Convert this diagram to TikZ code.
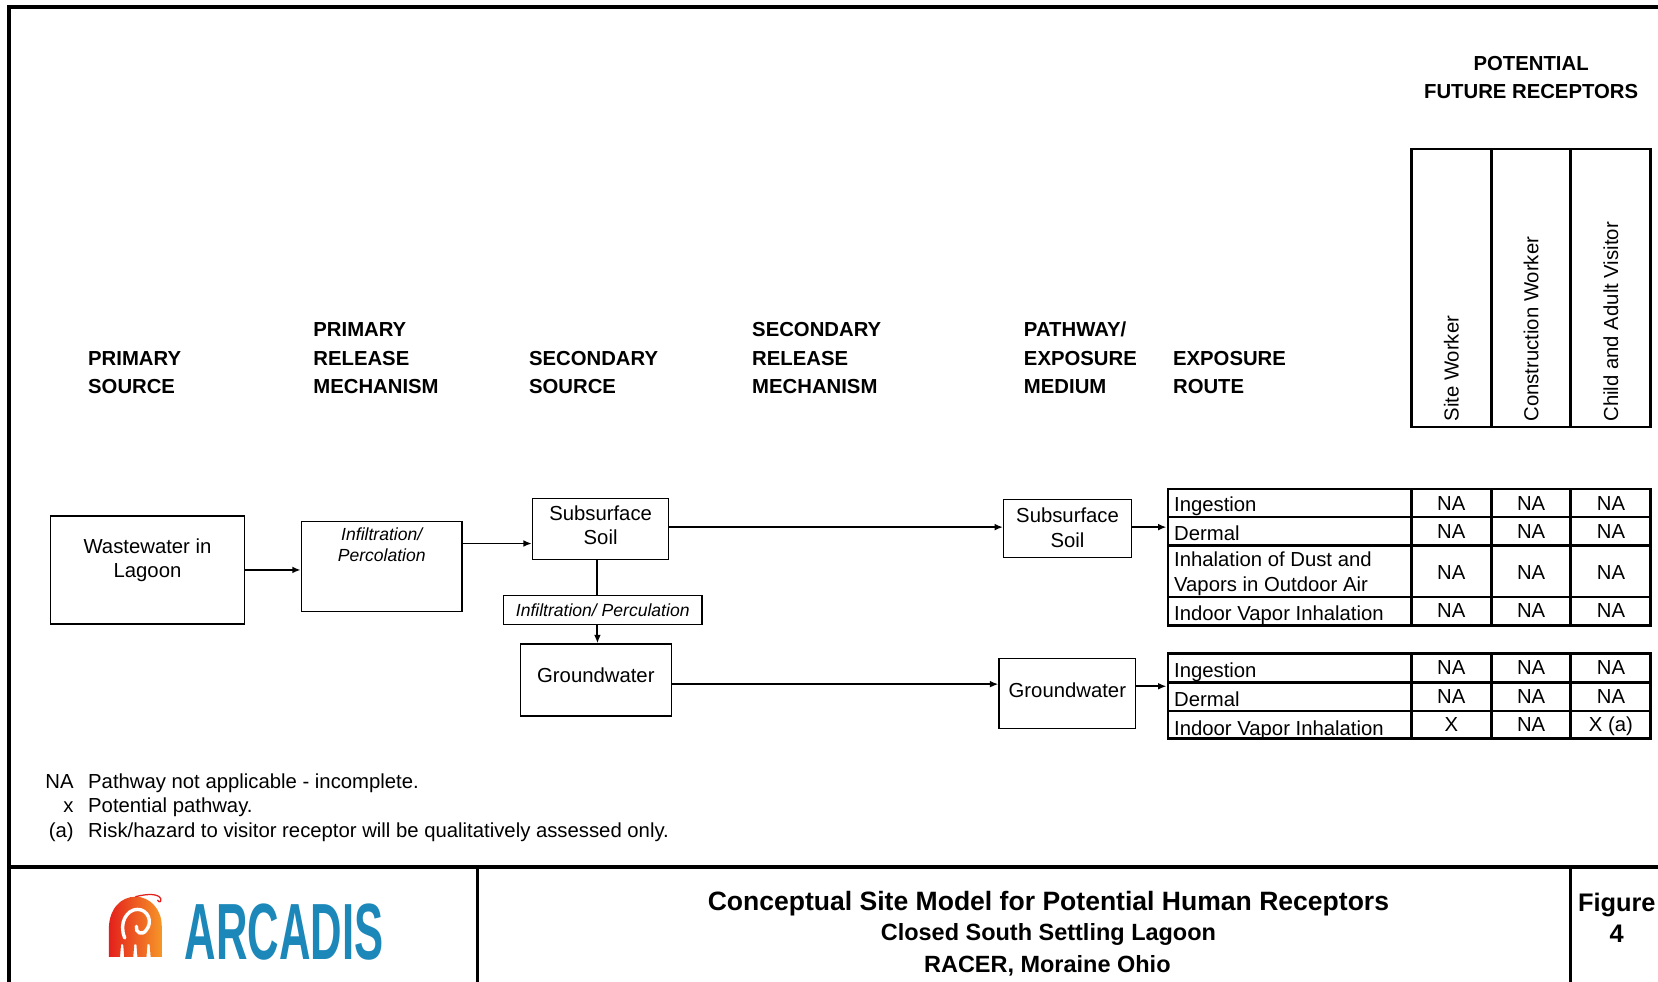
\documentclass[tikz,border=0pt]{standalone}
\usepackage{fontspec}
\setmainfont{Liberation Sans}
\usetikzlibrary{arrows.meta,fit,calc}
\definecolor{arcblue}{RGB}{28,136,186}
\definecolor{arcred}{RGB}{228,32,28}
\definecolor{arcorange}{RGB}{246,150,40}
\begin{document}
\begin{tikzpicture}[x=0.5pt,y=-0.5pt,
  hdr/.style={font=\fontsize{9.6}{13.5}\selectfont\bfseries, align=left, anchor=south west, inner sep=0pt},
  body/.style={font=\fontsize{9.6}{11.5}\selectfont, align=center, anchor=north, inner sep=0pt},
  itl/.style={font=\fontsize{8.3}{9.6}\selectfont\itshape, align=center, anchor=north, inner sep=0pt},
  box/.style={draw, line width=0.6pt, inner sep=0pt},
  arr/.style={line width=0.9pt, -{Latex[length=4pt,width=3.2pt]}},
  plain/.style={line width=0.9pt},
  tbl/.style={draw, line width=1.2pt, inner sep=0pt},
  tl/.style={line width=1.2pt},
  frame/.style={line width=1.5pt},
  cell/.style={font=\fontsize{9.6}{11.5}\selectfont, anchor=base, inner sep=0pt},
  lcell/.style={font=\fontsize{9.6}{11.5}\selectfont, anchor=base west, inner sep=0pt, align=left},
  colhdr/.style={font=\fontsize{9.6}{11.5}\selectfont, rotate=90, anchor=west, inner sep=0pt},
  note/.style={font=\fontsize{9.6}{11.5}\selectfont, inner sep=0pt},
  ttl/.style={font=\fontsize{12.55}{14}\selectfont\bfseries, anchor=base, inner sep=0pt},
  sub/.style={font=\fontsize{11.1}{13}\selectfont\bfseries, anchor=base, inner sep=0pt}
]
\useasboundingbox (0,0) rectangle (1568,928);
\clip (0,0) rectangle (1568,928);
\fill[white] (0,0) rectangle (1568,928);

% outer frame and title block
\draw[frame] (1600,6.6) -- (8.5,6.6) -- (8.5,960);
\draw[frame] (8.5,820) -- (1600,820);
\draw[frame] (451.6,820) -- (451.6,960);
\draw[frame] (1485.4,820) -- (1485.4,960);

% column headings
\node[hdr] (h1) at (83,373) {PRIMARY\\SOURCE};
\node[hdr] (h2) at (296,373) {PRIMARY\\RELEASE\\MECHANISM};
\node[hdr] (h3) at (500,373) {SECONDARY\\SOURCE};
\node[hdr] (h4) at (711,373) {SECONDARY\\RELEASE\\MECHANISM};
\node[hdr] (h5) at (968,373) {PATHWAY/\\EXPOSURE\\MEDIUM};
\node[hdr] (h6) at (1109,373) {EXPOSURE\\ROUTE};
\node[hdr, anchor=south, align=center] (h7) at (1448,94) {POTENTIAL\\FUTURE RECEPTORS};

% receptor header table
\node[tbl, fit={(1335,141) (1561,404)}] (rh) {};
\draw[tl] (1410.3,141) -- (1410.3,404);
\draw[tl] (1485.4,141) -- (1485.4,404);
\node[colhdr] (c1) at (1372.5,399) {Site Worker};
\node[colhdr] (c2) at (1448,399) {Construction Worker};
\node[colhdr] (c3) at (1523.5,399) {Child and Adult Visitor};

% boxes
\node[box, fit={(48,488) (231,590)}] (ww) {};
\node[body] (wwt) at (139.5,509) {Wastewater in\\Lagoon};
\node[box, fit={(285,493) (436.8,578)}] (pr) {};
\node[itl] (prt) at (361,499) {Infiltration/\\Percolation};
\node[box, fit={(503.6,471.5) (632.3,529.2)}] (ss1) {};
\node[body] (ss1t) at (568,478) {Subsurface\\Soil};
\node[box, fit={(476,563.5) (663.8,590.6)}] (ip) {};
\node[itl] (ipt) at (570,571) {Infiltration/ Perculation};
\node[box, fit={(492,609) (635,677)}] (gw1) {};
\node[body] (gw1t) at (563.5,631) {Groundwater};
\node[box, fit={(949.2,472.4) (1070,527.3)}] (ss2) {};
\node[body] (ss2t) at (1009.6,480) {Subsurface\\Soil};
\node[box, fit={(944.8,622.5) (1074,689)}] (gw2) {};
\node[body] (gw2t) at (1009.4,645.5) {Groundwater};

% exposure tables
\node[tbl, fit={(1104.4,462.6) (1561,591.3)}] (t1) {};
\draw[tl] (1104.4,488.8) -- (1561,488.8);
\draw[tl] (1104.4,516) -- (1561,516);
\draw[tl] (1104.4,564.5) -- (1561,564.5);
\draw[tl] (1335,462.6) -- (1335,591.3);
\draw[tl] (1410.3,462.6) -- (1410.3,591.3);
\draw[tl] (1485.4,462.6) -- (1485.4,591.3);

\node[tbl, fit={(1104.4,618) (1561,698.5)}] (t2) {};
\draw[tl] (1104.4,645.4) -- (1561,645.4);
\draw[tl] (1104.4,672.6) -- (1561,672.6);
\draw[tl] (1335,618) -- (1335,698.5);
\draw[tl] (1410.3,618) -- (1410.3,698.5);
\draw[tl] (1485.4,618) -- (1485.4,698.5);

% connectors
\draw[arr] (ww.east) -- (ww.east -| pr.west);
\draw[arr] (pr.east |- 0,514) -- (ss1.west |- 0,514);
\draw[arr] (ss1.east |- 0,498.5) -- (ss2.west |- 0,498.5);
\draw[arr] (ss2.east |- 0,498.5) -- (t1.west |- 0,498.5);
\draw[plain] (ss1.south -| 565,0) -- (ip.north -| 565,0);
\draw[arr] (ip.south -| 565,0) -- (gw1.north -| 565,0);
\draw[arr] (gw1.east |- 0,647) -- (gw2.west |- 0,647);
\draw[arr] (gw2.east |- 0,649) -- (t2.west |- 0,649);

% table 1 texts
\node[lcell] (r11) at (1110,484) {Ingestion};
\node[lcell] (r12) at (1110,511.5) {Dermal};
\node[lcell] (r13) at (1110,536) {Inhalation of Dust and};
\node[lcell] (r13b) at (1110,559.8) {Vapors in Outdoor Air};
\node[lcell] (r14) at (1110,586.6) {Indoor Vapor Inhalation};
\foreach \y/\n in {482.5/a,509.3/b,548/c,584/d}{
  \node[cell] (s1\n) at (1372.5,\y) {NA};
  \node[cell] (s2\n) at (1448,\y) {NA};
  \node[cell] (s3\n) at (1523.5,\y) {NA};
}
% table 2 texts
\node[lcell] (r21) at (1110,640.8) {Ingestion};
\node[lcell] (r22) at (1110,668) {Dermal};
\node[lcell] (r23) at (1110,695.4) {Indoor Vapor Inhalation};
\foreach \y/\n in {638/a,665.4/b}{
  \node[cell] (u1\n) at (1372.5,\y) {NA};
  \node[cell] (u2\n) at (1448,\y) {NA};
  \node[cell] (u3\n) at (1523.5,\y) {NA};
}
\node[cell] (u1c) at (1372.5,692.2) {X};
\node[cell] (u2c) at (1448,692.2) {NA};
\node[cell] (u3c) at (1523.5,692.2) {X (a)};

% notes
\node[note, anchor=base east] (k1) at (70,746) {NA};
\node[note, anchor=base west] (n1) at (83,746) {Pathway not applicable - incomplete.};
\node[note, anchor=base east] (k2) at (70,768) {x};
\node[note, anchor=base west] (n2) at (83,768) {Potential pathway.};
\node[note, anchor=base east] (k3) at (70,792) {(a)};
\node[note, anchor=base west] (n3) at (83,792) {Risk/hazard to visitor receptor will be qualitatively assessed only.};

% title block texts
\node[ttl] (tt1) at (991.5,861) {Conceptual Site Model for Potential Human Receptors};
\node[sub] (tt2) at (991.5,889) {Closed South Settling Lagoon};
\node[sub] (tt3) at (990.5,920) {RACER, Moraine Ohio};
\node[ttl, font=\fontsize{12}{14}\selectfont\bfseries] (fg) at (1529,861.6) {Figure};
\node[ttl, font=\fontsize{12}{14}\selectfont\bfseries] (fgn) at (1529,891) {4};

% logo
\shade[left color=arcred, right color=arcorange]
  (103,905) -- (103,878) .. controls (103,860) and (114,848) .. (128,848)
  .. controls (142,848) and (153,860) .. (153,876) -- (153,905)
  -- (142.5,905) -- (141.5,893) -- (139.5,893) -- (138.5,905)
  -- (130,905) -- (129,893) -- (127,893) -- (126,905)
  -- (117.5,905) -- (116.5,893) -- (114.5,893) -- (113.5,905) -- cycle;
\draw[white, line width=1.6pt, line cap=round]
  (118,887) .. controls (112,873) and (120,860) .. (130,860)
  .. controls (140,860) and (145,872) .. (138,880)
  .. controls (134,885) and (128,882) .. (129,876);
\draw[arcred, line width=0.6pt]
  (128,848) .. controls (140,845) and (150,845) .. (152,850)
  .. controls (153,853) and (150,854) .. (149,851);
\node[font=\fontsize{37.7}{40}\selectfont\bfseries, text=arcblue, xscale=0.547, inner sep=0pt] (logo) at (268.5,881) {ARCADIS};
\end{tikzpicture}
\end{document}
